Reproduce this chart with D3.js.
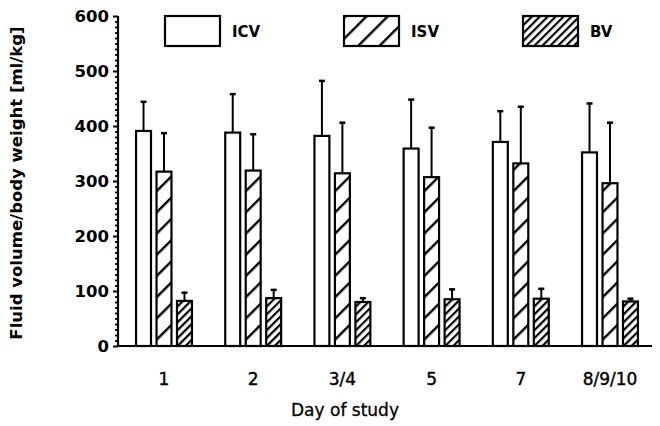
<!DOCTYPE html>
<html>
<head>
<meta charset="utf-8">
<script src="https://cdn.jsdelivr.net/npm/d3@7"></script>
<style>
  html, body { margin: 0; padding: 0; background: #fff; }
  svg { display: block; }
</style>
</head>
<body>
<svg id="chart" width="660" height="426"></svg>
<script>
// ---- data ----
const days = ["1", "2", "3/4", "5", "7", "8/9/10"];
const seriesNames = ["ICV", "ISV", "BV"];
const icvMean = [391, 388, 382, 359, 371, 352];
const icvSD   = [53, 70, 100, 89, 56, 89];
const isvMean = [317, 319, 314, 307, 332, 296];
const isvSD   = [70, 66, 92, 90, 103, 110];
const bvMean  = [82, 87, 80, 85, 86, 81];
const bvSD    = [15, 15, 7, 18, 18, 5];
const yTicks  = [0, 100, 200, 300, 400, 500, 600];

const means = [icvMean, isvMean, bvMean];
const sds = [icvSD, isvSD, bvSD];

const svg = d3.select("#chart");
const defs = svg.append("defs");

function hatch(id, period, sw) {
  const p = defs.append("pattern")
    .attr("id", id)
    .attr("patternUnits", "userSpaceOnUse")
    .attr("width", period).attr("height", period)
    .attr("patternTransform", "rotate(45)");
  p.append("rect").attr("width", period).attr("height", period).attr("fill", "#fff");
  p.append("rect").attr("x", 0).attr("y", 0).attr("width", sw).attr("height", period)
    .attr("fill", "#000");
}
hatch("hatchISV", 15, 2.4);
hatch("hatchBV", 5.6, 2.2);
const fills = ["#fff", "url(#hatchISV)", "url(#hatchBV)"];

const y = d3.scaleLinear().domain([0, 600]).range([346, 16]);
const x0 = d3.scaleBand().domain(days).range([119.4, 654.6]).paddingInner(0).paddingOuter(0);
const x1 = d3.scaleBand().domain(seriesNames).range([0, 60]).paddingInner(0.27).paddingOuter(0.1);

// bars
const groups = svg.append("g").selectAll("g").data(days).join("g")
  .attr("transform", d => `translate(${x0(d) + x0.bandwidth() / 2 - 30},0)`);

seriesNames.forEach((s, si) => {
  groups.append("rect")
    .attr("x", x1(s))
    .attr("width", x1.bandwidth())
    .attr("y", (d, i) => y(means[si][i]))
    .attr("height", (d, i) => y(0) - y(means[si][i]))
    .attr("fill", fills[si])
    .attr("stroke", "#000")
    .attr("stroke-width", 2.2);
  // error bars (upper only)
  groups.append("line")
    .attr("x1", x1(s) + x1.bandwidth() / 2)
    .attr("x2", x1(s) + x1.bandwidth() / 2)
    .attr("y1", (d, i) => y(means[si][i]))
    .attr("y2", (d, i) => y(means[si][i] + sds[si][i]))
    .attr("stroke", "#000").attr("stroke-width", 2);
  groups.append("line")
    .attr("x1", x1(s) + x1.bandwidth() / 2 - 3)
    .attr("x2", x1(s) + x1.bandwidth() / 2 + 3)
    .attr("y1", (d, i) => y(means[si][i] + sds[si][i]))
    .attr("y2", (d, i) => y(means[si][i] + sds[si][i]))
    .attr("stroke", "#000").attr("stroke-width", 2.5);
});

// y axis
const yAxis = svg.append("g").attr("transform", "translate(118,0)")
  .call(d3.axisLeft(y).tickValues(yTicks).tickSize(5).tickPadding(4).tickFormat(d3.format("d")));
yAxis.select(".domain").attr("stroke-width", 2.2).attr("d", `M0,${y(600)}V${y(0)}`);
yAxis.selectAll(".tick line").attr("stroke-width", 2);
yAxis.selectAll("text")
  .attr("font-family", "DejaVu Sans").attr("font-weight", "bold").attr("font-size", 16.5).attr("fill", "#000");
// minor ticks
const minor = d3.range(0, 601, 10).filter(v => v % 100 !== 0);
svg.append("g").attr("transform", "translate(118,0)")
  .call(d3.axisLeft(y).tickValues(minor).tickSize(3).tickFormat(""))
  .call(g => g.select(".domain").remove())
  .selectAll("line").attr("stroke-width", 1.8);

// x axis
const xAxis = svg.append("g").attr("transform", `translate(0,${y(0)})`)
  .call(d3.axisBottom(x0).tickSize(0).tickPadding(27));
xAxis.select(".domain").attr("stroke-width", 2.2).attr("d", "M118,0H652");
xAxis.selectAll("text")
  .attr("font-family", "DejaVu Sans").attr("font-size", 17).attr("fill", "#000")
  .attr("stroke", "#000").attr("stroke-width", 0.4);

// axis titles
svg.append("text")
  .attr("transform", "translate(22,183) rotate(-90)")
  .attr("text-anchor", "middle")
  .attr("font-family", "DejaVu Sans").attr("font-weight", "bold").attr("font-size", 16.5)
  .text("Fluid volume/body weight [ml/kg]");
svg.append("text")
  .attr("x", 345).attr("y", 416)
  .attr("text-anchor", "middle")
  .attr("font-family", "DejaVu Sans").attr("font-size", 17)
  .attr("stroke", "#000").attr("stroke-width", 0.3)
  .text("Day of study");

// legend
const legendX = d3.scalePoint().domain(seriesNames).range([165, 523]);
const leg = svg.append("g").selectAll("g").data(seriesNames).join("g")
  .attr("transform", d => `translate(${legendX(d)},16)`);
leg.append("rect").attr("width", 55).attr("height", 30)
  .attr("fill", (d, i) => fills[i]).attr("stroke", "#000").attr("stroke-width", 2.2);
leg.append("text").attr("x", 67).attr("y", 21)
  .attr("font-family", "DejaVu Sans").attr("font-weight", "bold").attr("font-size", 15)
  .text(d => d);
</script>
</body>
</html>
